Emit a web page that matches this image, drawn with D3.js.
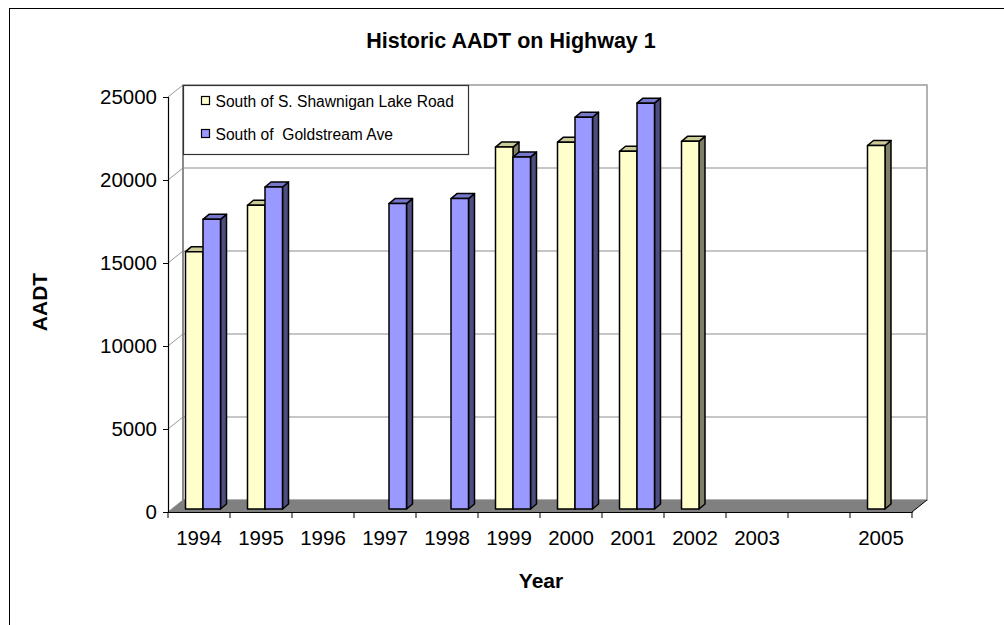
<!DOCTYPE html>
<meta charset="utf-8">
<script src="https://d3js.org/d3.v7.min.js"></script>
<style>
  body { margin: 0; background: #fff; }
  text { font-family: Arial, "Liberation Sans", sans-serif; fill: #000; }
</style>
<div id="chart"></div>
<script>
  // chart data
  var years = ["1994", "1995", "1996", "1997", "1998", "1999", "2000", "2001", "2002", "2003", "", "2005"];
  var seriesNames = ["South of S. Shawnigan Lake Road", "South of  Goldstream Ave"];
  var southShawnigan = [15500, 18300, null, null, null, 21800, 22100, 21550, 22150, null, null, 21900];
  var southGoldstream = [17450, 19400, null, 18400, 18700, 21200, 23600, 24450, null, null, null, null];
  var yTicks = [0, 5000, 10000, 15000, 20000, 25000];

  var width = 1004, height = 625;
  // depth of the 3d box and of a single bar
  var depth = { dx: 15, dy: -12 };
  var barPlane = { dx: 4, dy: -3 };
  var barDepth = { dx: 6, dy: -5 };

  var colors = [
    { front: "#FFFFCC", top: "#CCCC99", side: "#7F7F66" },
    { front: "#9999FF", top: "#7777CC", side: "#4D4D80" }
  ];

  var svg = d3.select("#chart").append("svg")
    .attr("width", width)
    .attr("height", height);

  // outer frame
  svg.append("rect")
    .attr("x", 9.5).attr("y", 8.5)
    .attr("width", 1010).attr("height", 630)
    .attr("fill", "none").attr("stroke", "#000").attr("stroke-width", 1);

  var x = d3.scaleBand().domain(years).range([168, 912]).padding(0);
  var xs = d3.scaleBand().domain(seriesNames).range([13.5, 48.5]).padding(0);
  var y = d3.scaleLinear().domain([0, 25000]).range([512, 97]);

  var x0 = x.range()[0], x1 = x.range()[1];

  // back wall
  svg.append("rect")
    .attr("x", x0 + depth.dx).attr("y", y(25000) + depth.dy)
    .attr("width", x1 - x0).attr("height", y(0) - y(25000))
    .attr("fill", "#fff").attr("stroke", "#999").attr("stroke-width", 1.5);

  // gridlines on back wall and side
  yTicks.forEach(function (t) {
    if (t > 0) {
      svg.append("line")
        .attr("x1", x0 + depth.dx).attr("x2", x1 + depth.dx)
        .attr("y1", y(t) + depth.dy).attr("y2", y(t) + depth.dy)
        .attr("stroke", "#b3b3b3").attr("stroke-width", 1.5);
    }
    svg.append("line")
      .attr("x1", x0).attr("y1", y(t))
      .attr("x2", x0 + depth.dx).attr("y2", y(t) + depth.dy)
      .attr("stroke", "#999").attr("stroke-width", 1);
  });
  svg.append("line")
    .attr("x1", x0 + depth.dx).attr("x2", x0 + depth.dx)
    .attr("y1", y(25000) + depth.dy).attr("y2", y(0) + depth.dy)
    .attr("stroke", "#666").attr("stroke-width", 1);

  // floor
  svg.append("polygon")
    .attr("points", [
      [x0, y(0)], [x1, y(0)], [x1 + depth.dx, y(0) + depth.dy], [x0 + depth.dx, y(0) + depth.dy]
    ].join(" "))
    .attr("fill", "#808080");
  svg.append("line")
    .attr("x1", x1).attr("y1", y(0))
    .attr("x2", x1 + depth.dx).attr("y2", y(0) + depth.dy)
    .attr("stroke", "#000").attr("stroke-width", 1);

  // Y axis
  var yAxis = svg.append("g")
    .attr("transform", "translate(" + x0 + ",0)")
    .call(d3.axisLeft(y).tickValues(yTicks).tickSize(5).tickPadding(6).tickFormat(d3.format("d")));
  yAxis.select(".domain").attr("stroke", "#000").attr("stroke-width", 1.2);
  yAxis.selectAll("text").style("font-size", "20.5px").attr("font-family", null);

  // X axis
  var xAxis = svg.append("g")
    .attr("transform", "translate(0," + y(0) + ")")
    .call(d3.axisBottom(x).tickSize(0).tickPadding(18));
  xAxis.select(".domain").attr("stroke", "#000").attr("stroke-width", 1.2);
  xAxis.selectAll("text").style("font-size", "20.5px").attr("font-family", null);
  // tick marks on category boundaries
  xAxis.selectAll(".bound")
    .data(years.concat(["end"]))
    .enter().append("line")
    .attr("x1", function (d, i) { return x0 + i * x.bandwidth(); })
    .attr("x2", function (d, i) { return x0 + i * x.bandwidth(); })
    .attr("y1", 0).attr("y2", 6)
    .attr("stroke", "#000");

  // 3d bars
  var seriesValues = [southShawnigan, southGoldstream];
  years.forEach(function (yr, i) {
    seriesValues.forEach(function (vals, s) {
      var v = vals[i];
      if (v == null) return;
      var bx = x(yr) + xs(seriesNames[s]) + barPlane.dx;
      var bw = xs.bandwidth();
      var top = y(v) + barPlane.dy;
      var base = y(0) + barPlane.dy;
      var g = svg.append("g")
        .attr("stroke", "#000").attr("stroke-width", 1.5).attr("stroke-linejoin", "round");
      g.append("polygon")
        .attr("points", [[bx + bw, top], [bx + bw + barDepth.dx, top + barDepth.dy],
          [bx + bw + barDepth.dx, base + barDepth.dy], [bx + bw, base]].join(" "))
        .attr("fill", colors[s].side);
      g.append("polygon")
        .attr("points", [[bx, top], [bx + bw, top], [bx + bw + barDepth.dx, top + barDepth.dy],
          [bx + barDepth.dx, top + barDepth.dy]].join(" "))
        .attr("fill", colors[s].top);
      g.append("rect")
        .attr("x", bx).attr("y", top)
        .attr("width", bw).attr("height", base - top)
        .attr("fill", colors[s].front);
    });
  });

  // legend
  var legend = svg.append("g").attr("transform", "translate(183.5,85.5)");
  legend.append("rect")
    .attr("width", 285).attr("height", 69)
    .attr("fill", "#fff").attr("stroke", "#333").attr("stroke-width", 1.2);
  seriesNames.forEach(function (name, s) {
    var ly = 15 + s * 33;
    legend.append("rect")
      .attr("x", 18).attr("y", ly - 4)
      .attr("width", 8).attr("height", 8)
      .attr("fill", colors[s].front).attr("stroke", "#000").attr("stroke-width", 1.2);
    legend.append("text")
      .attr("x", 32).attr("y", ly + 6)
      .style("font-size", "15.6px")
      .style("white-space", "pre")
      .text(name);
  });

  // titles
  svg.append("text")
    .attr("x", 511).attr("y", 48)
    .attr("text-anchor", "middle")
    .style("font-size", "21.5px").style("font-weight", "bold")
    .text("Historic AADT on Highway 1");

  svg.append("text")
    .attr("transform", "translate(47,302) rotate(-90)")
    .attr("text-anchor", "middle")
    .style("font-size", "21px").style("font-weight", "bold")
    .text("AADT");

  svg.append("text")
    .attr("x", 541).attr("y", 588)
    .attr("text-anchor", "middle")
    .style("font-size", "21px").style("font-weight", "bold")
    .text("Year");
</script>
